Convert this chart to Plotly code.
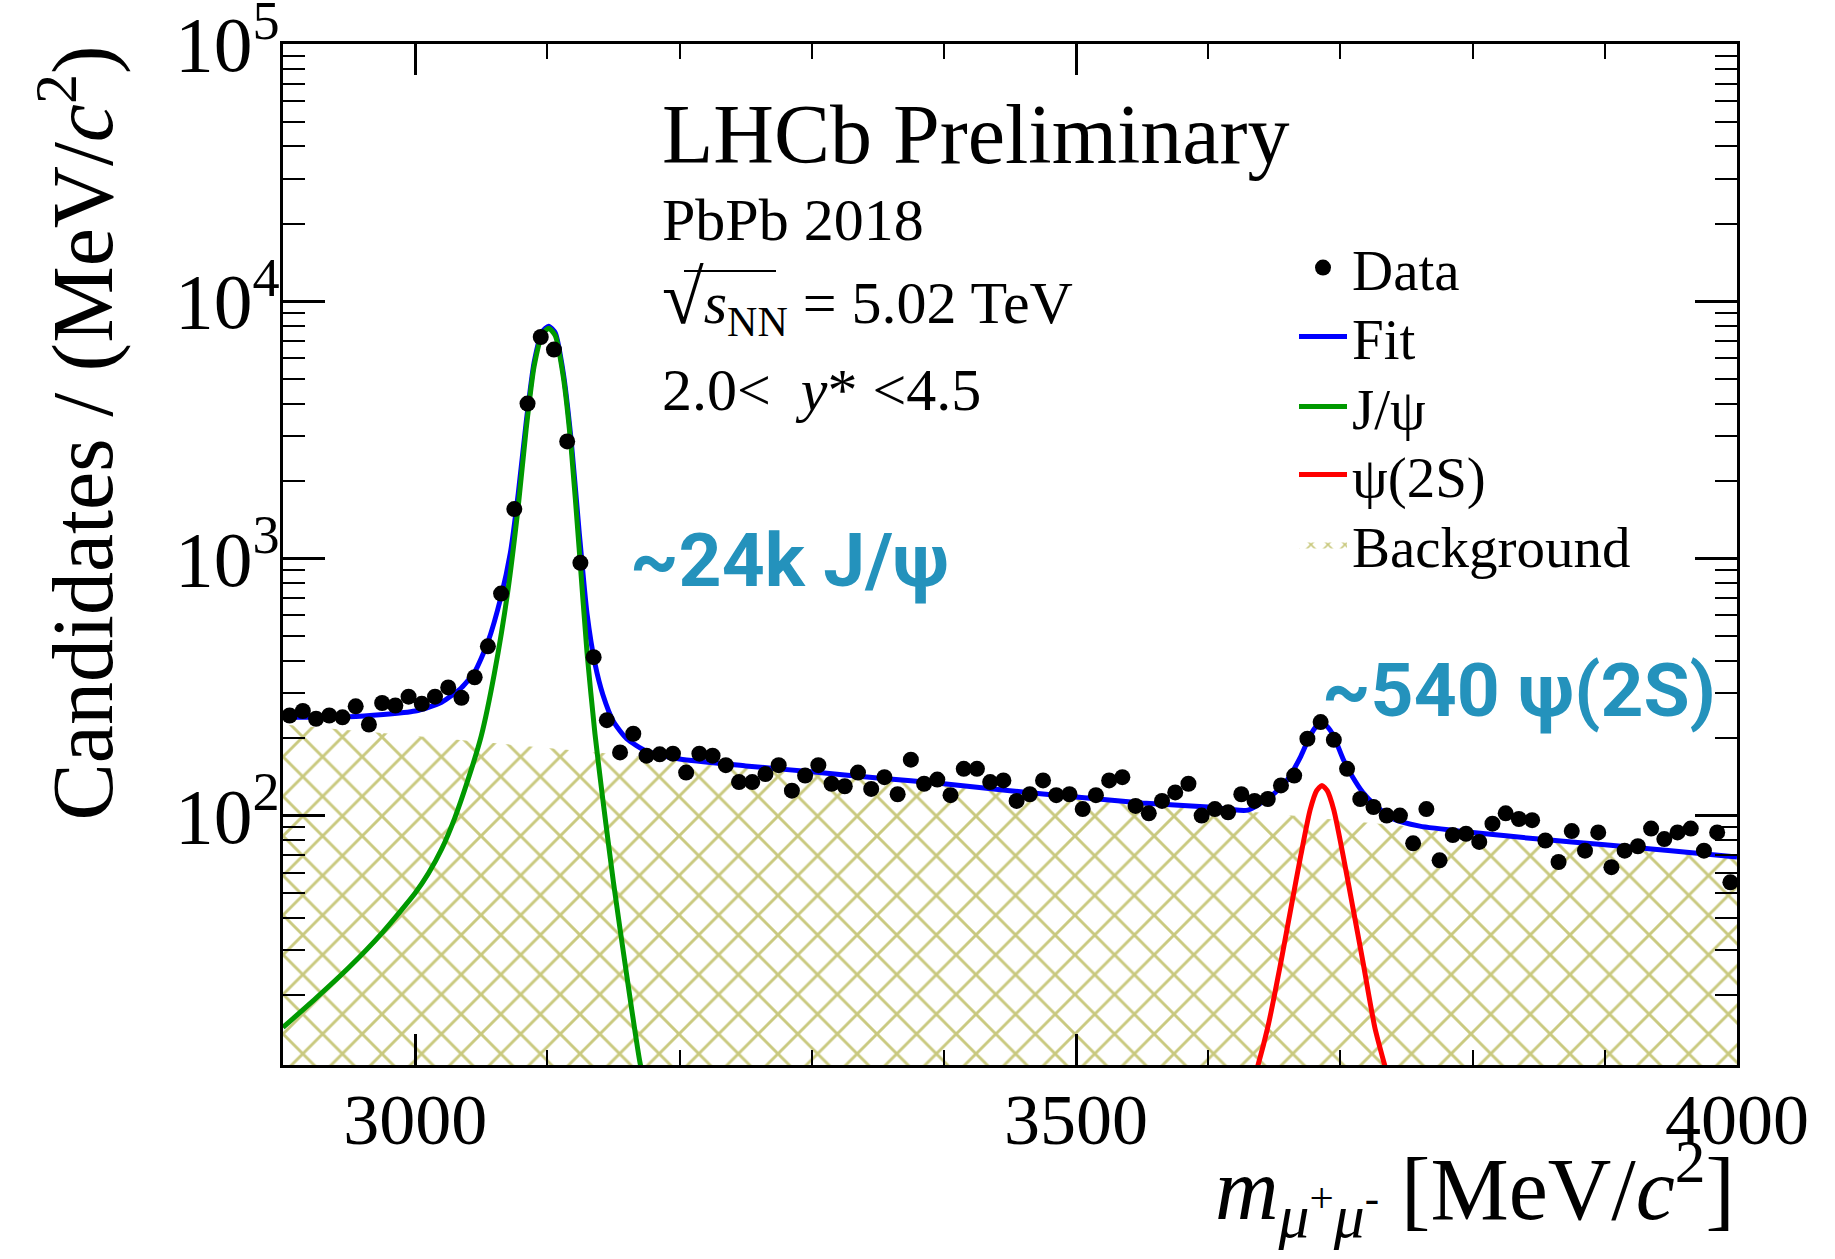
import numpy as np
import plotly.graph_objects as go

# Dimuon invariant-mass spectrum, PbPb 2018, 10 MeV bins from 2900 to 4000 MeV/c^2
BIN_WIDTH = 10
mass_centres = np.arange(2905, 4000, BIN_WIDTH)

candidates = [
    245, 255, 238, 245, 241, 266, 226, 274, 268, 290,
    272, 290, 315, 287, 345, 455, 730, 1555, 4000, 7260,
    6490, 2850, 961, 413, 235, 176, 208, 171, 173, 174,
    147, 174, 171, 157, 135, 135, 145, 157, 125, 143,
    157, 133, 130, 147, 127, 141, 121, 165, 133, 138,
    120, 152, 152, 135, 137, 114, 121, 137, 120, 121,
    106, 120, 137, 141, 109, 102, 114, 123, 133, 100,
    106, 103, 121, 114, 116, 131, 143, 199, 231, 197,
    152, 116, 108, 100, 100, 78, 106, 67, 84, 85,
    79, 93, 102, 97, 96, 80, 66, 87, 73, 86,
    63, 73, 76, 89, 81, 86, 89, 73, 86, 55,
]

# Fit components, sampled along the mass axis
fit_x = [2900, 2950, 3000, 3020, 3035, 3045, 3055, 3065, 3072, 3078, 3084, 3090,
         3096, 3101, 3106, 3112, 3118, 3124, 3130, 3136, 3142, 3150, 3160, 3175,
         3200, 3250, 3300, 3350, 3400, 3450, 3500, 3550, 3600, 3630, 3650, 3660,
         3670, 3677, 3682, 3686, 3690, 3695, 3702, 3709, 3717, 3726, 3740, 3760,
         3800, 3850, 3900, 3950, 4000]
fit_y = [241, 242, 255, 276, 314, 362, 473, 711, 1050, 1790, 3390, 5790,
         7590, 8000, 7530, 5280, 2880, 1280, 610, 390, 295, 232, 199, 178,
         166, 156, 148, 140, 133, 125, 118, 112, 108, 105, 122, 138,
         170, 204, 223, 228, 222, 203, 166, 142, 123, 110, 97, 91,
         86, 81, 77, 73, 69]

jpsi_x = [2900, 2925, 2950, 2975, 3000, 3010, 3020, 3030, 3040, 3050, 3060, 3070,
          3078, 3084, 3090, 3096, 3101, 3106, 3112, 3118, 3124, 3130, 3136, 3142,
          3150, 3160, 3170, 3176]
jpsi_y = [15, 19.5, 25.7, 35, 50, 59.6, 74, 98, 138, 204, 359, 741,
          1600, 3200, 5600, 7400, 7850, 7350, 5100, 2700, 1100, 430, 208, 115,
          55, 24, 11, 8]

psi2s_x = [3630, 3636, 3645, 3655, 3663, 3670, 3677, 3682, 3686, 3690, 3695,
           3702, 3709, 3717, 3726, 3735, 3740]
psi2s_y = [8, 10, 15, 27, 45, 70, 105, 125, 131, 125, 105,
           70, 45, 27, 15, 10, 8]

bkg_x = [2900, 3000, 3100, 3200, 3300, 3400, 3500, 3600, 3700, 3800, 3900, 4000]
bkg_y = [226, 204, 183, 164, 147, 132, 118, 107, 96, 86, 77, 69]

# Poisson uncertainty of each bin, expressed per MeV/c^2
cand = np.array(candidates, dtype=float)
cand_err = np.sqrt(cand * BIN_WIDTH) / BIN_WIDTH

SERIF = "Liberation Serif"
TEAL = "#2492bc"
OLIVE = "#949400"

L, R, T, B = 283, 98, 44, 194
W, H = 1835, 1259
PW, PH = W - L - R, H - T - B


def px(x):
    return (x - L) / PW


def py(y):
    return (H - B - y) / PH


fig = go.Figure()

fig.add_trace(go.Scatter(
    x=bkg_x, y=bkg_y, mode="lines", name="Background", showlegend=False,
    line=dict(width=0, color=OLIVE, shape="spline"),
    fill="tozeroy", fillcolor="rgba(0,0,0,0)",
    fillpattern=dict(shape="x", fgcolor=OLIVE, bgcolor="rgba(255,255,255,0)",
                     size=28, solidity=0.2),
))
# legend entry for the background with a finer hatch so the swatch shows the pattern
fig.add_trace(go.Scatter(
    x=[None], y=[None], mode="lines", name="Background", legend="legend5",
    line=dict(width=0, color=OLIVE),
    fill="tozeroy", fillcolor="rgba(0,0,0,0)",
    fillpattern=dict(shape="x", fgcolor=OLIVE, bgcolor="rgba(255,255,255,0)",
                     size=12, solidity=0.25),
))
fig.add_trace(go.Scatter(
    x=fit_x, y=fit_y, mode="lines", name="Fit", legend="legend2",
    line=dict(color="#0000ff", width=5, shape="spline", smoothing=0.6),
))
fig.add_trace(go.Scatter(
    x=jpsi_x, y=jpsi_y, mode="lines", name="J/ψ", legend="legend3",
    line=dict(color="#009900", width=5, shape="spline", smoothing=0.6),
))
fig.add_trace(go.Scatter(
    x=psi2s_x, y=psi2s_y, mode="lines", name="ψ(2S)", legend="legend4",
    line=dict(color="#ff0000", width=5, shape="spline", smoothing=0.6),
))
fig.add_trace(go.Scatter(
    x=mass_centres, y=candidates, mode="markers", name="Data", legend="legend",
    marker=dict(color="black", size=16, symbol="circle"),
    error_y=dict(type="data", array=cand_err, color="black", thickness=2.5, width=5),
))

annotations = [
    dict(text="LHCb Preliminary", x=px(660), y=py(135), xanchor="left", yanchor="middle",
         font=dict(family=SERIF, size=84, color="black")),
    dict(text="PbPb 2018", x=px(660), y=py(220), xanchor="left", yanchor="middle",
         font=dict(family=SERIF, size=60, color="black")),
    dict(text="<span style='font-size:76px'>√</span><i>s</i><sub>NN</sub> = 5.02 TeV",
         x=px(660), y=py(300), xanchor="left",
         yanchor="middle", font=dict(family=SERIF, size=60, color="black")),
    dict(text="2.0<  <i>y</i>* <4.5", x=px(660), y=py(390), xanchor="left", yanchor="middle",
         font=dict(family=SERIF, size=60, color="black")),
    dict(text="~24k J/ψ", x=px(628), y=py(560), xanchor="left", yanchor="middle",
         font=dict(family="Roboto", size=75, color=TEAL, weight="bold")),
    dict(text="~540 ψ(2S)", x=px(1320), y=py(690), xanchor="left", yanchor="middle",
         font=dict(family="Roboto", size=75, color=TEAL, weight="bold")),
    dict(text="Candidates / (MeV/<i>c</i><sup>2</sup>)", x=px(76), y=1.0, textangle=-90,
         xanchor="center", yanchor="top",
         font=dict(family=SERIF, size=86, color="black")),
    dict(text="<i>m</i><sub><i>μ</i><sup>+</sup><i>μ</i><sup>-</sup></sub> [MeV/<i>c</i><sup>2</sup>]",
         x=1.0, y=py(1188), xanchor="right", yanchor="middle",
         font=dict(family=SERIF, size=88, color="black")),
]
for a in annotations:
    a.update(xref="paper", yref="paper", showarrow=False)

# overline of the square-root sign
shapes = [dict(type="line", xref="paper", yref="paper",
               x0=px(684), x1=px(776), y0=py(271), y1=py(271),
               line=dict(color="black", width=2))]


def legend_box(centre_y):
    return dict(x=px(1294), y=py(centre_y), xanchor="left", yanchor="middle",
                bgcolor="rgba(0,0,0,0)", itemwidth=48,
                font=dict(family=SERIF, size=57, color="black"))


fig.update_layout(
    width=W, height=H,
    margin=dict(l=L, r=R, t=T, b=B, autoexpand=False),
    paper_bgcolor="white", plot_bgcolor="white",
    annotations=annotations, shapes=shapes,
    legend=legend_box(268), legend2=legend_box(337), legend3=legend_box(407),
    legend4=legend_box(475), legend5=legend_box(545),
    showlegend=True,
)

fig.update_xaxes(
    range=[2900, 4000], tickmode="array", tickvals=[3000, 3500, 4000],
    ticks="inside", ticklen=31, tickwidth=2.5, tickcolor="black",
    minor=dict(ticks="inside", dtick=100, tick0=2900, ticklen=15, tickwidth=2, tickcolor="black",
               showgrid=False),
    showline=True, linewidth=3, linecolor="black", mirror="allticks",
    showgrid=False, zeroline=False, ticklabelstandoff=-10,
    tickfont=dict(family=SERIF, size=72, color="black"),
)
fig.update_yaxes(
    type="log", range=[1.03, 5.0005], tickmode="linear", tick0=0, dtick=1,
    exponentformat="power", showexponent="all", ticklabeloverflow="allow",
    ticks="inside", ticklen=42, tickwidth=2.5, tickcolor="black",
    minor=dict(ticks="inside", dtick="D1", ticklen=22, tickwidth=2, tickcolor="black",
               showgrid=False),
    showline=True, linewidth=3, linecolor="black", mirror="allticks",
    showgrid=False, zeroline=False, ticklabelstandoff=-12,
    tickfont=dict(family=SERIF, size=62, color="black"),
)

fig.write_html("out.html")
